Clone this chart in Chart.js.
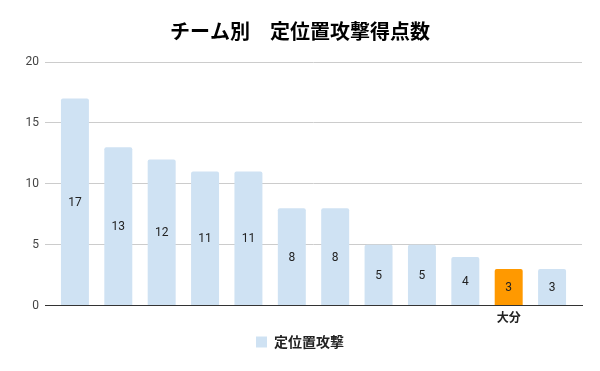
<!DOCTYPE html>
<html>
<head>
<meta charset="utf-8">
<script src="https://cdn.jsdelivr.net/npm/chart.js@4.4.0/dist/chart.umd.min.js"></script>
<style>
html,body{margin:0;padding:0;background:#fff;}
#wrap{width:600px;height:371px;}
</style>
</head>
<body>
<div id="wrap"><canvas id="c" width="600" height="371"></canvas></div>
<script>
const titleText = 'チーム別　定位置攻撃得点数';
const seriesName = '定位置攻撃';
const categories = ['', '', '', '', '', '', '', '', '', '', '大分', ''];
const values = [17, 13, 12, 11, 11, 8, 8, 5, 5, 4, 3, 3];
const highlightIndex = 10;
const yTicks = [0, 5, 10, 15, 20];

const BLUE = '#cfe2f3';
const ORANGE = '#ff9900';

const labelPlugin = {
  id: 'barLabels',
  afterDatasetsDraw(chart) {
    const ctx = chart.ctx;
    const meta = chart.getDatasetMeta(0);
    ctx.save();
    ctx.font = '12px Roboto, Arial, sans-serif';
    ctx.fillStyle = '#222';
    ctx.textAlign = 'center';
    ctx.textBaseline = 'middle';
    meta.data.forEach((el, i) => {
      const y = (el.y + el.base) / 2;
      ctx.fillText(String(values[i]), el.x, y + 1);
    });
    ctx.restore();
  }
};

const titlePlugin = {
  id: 'centerTitle',
  afterDraw(chart) {
    const ctx = chart.ctx;
    ctx.save();
    ctx.font = "bold 20px 'Noto Sans CJK JP', sans-serif";
    ctx.fillStyle = '#000';
    ctx.textAlign = 'center';
    ctx.textBaseline = 'middle';
    ctx.fillText(titleText, chart.width / 2, 31);
    ctx.restore();
  }
};

new Chart(document.getElementById('c'), {
  type: 'bar',
  data: {
    datasets: [{
      label: seriesName,
      data: values.map((v, i) => ({x: i, y: v})),
      backgroundColor: (c) => (c.dataIndex === highlightIndex ? ORANGE : BLUE),
      borderRadius: 2,
      borderSkipped: 'bottom',
      barPercentage: 0.645,
      categoryPercentage: 1
    }]
  },
  options: {
    responsive: false,
    animation: false,
    layout: {padding: {left: 0, right: 0, top: 62, bottom: 12}},
    plugins: {
      title: {display: false},
      legend: {
        display: true,
        position: 'bottom',
        labels: {
          boxWidth: 11,
          boxHeight: 11,
          color: '#222',
          font: {family: "'Noto Sans CJK JP', sans-serif", size: 14, weight: 'bold'},
          padding: 5
        }
      },
      tooltip: {enabled: false}
    },
    scales: {
      x: {
        type: 'linear',
        offset: false,
        min: -0.69,
        max: 11.69,
        grid: {display: false, drawTicks: false},
        border: {display: true, color: '#333', width: 1},
        ticks: {
          stepSize: 1,
          autoSkip: false,
          maxRotation: 0,
          padding: 5,
          color: '#222',
          font: {family: "'Noto Sans CJK JP', sans-serif", size: 12, weight: 'bold'},
          callback: (v) => (Number.isInteger(v) && categories[v] !== undefined ? categories[v] : '')
        }
      },
      y: {
        min: yTicks[0],
        max: yTicks[yTicks.length - 1],
        afterFit: (s) => { s.width = 45; },
        afterBuildTicks: (s) => { s.ticks = yTicks.map(v => ({value: v})); },
        grid: {color: '#cccccc', drawTicks: false},
        border: {display: false},
        ticks: {
          padding: 6,
          color: '#444',
          font: {family: 'Roboto, Arial, sans-serif', size: 12}
        }
      },
      spacer: {
        type: 'linear',
        position: 'right',
        display: true,
        afterFit: (s) => { s.width = 18; },
        grid: {display: false, drawTicks: false},
        border: {display: false},
        ticks: {display: false}
      }
    }
  },
  plugins: [labelPlugin, titlePlugin]
});
</script>
</body>
</html>
